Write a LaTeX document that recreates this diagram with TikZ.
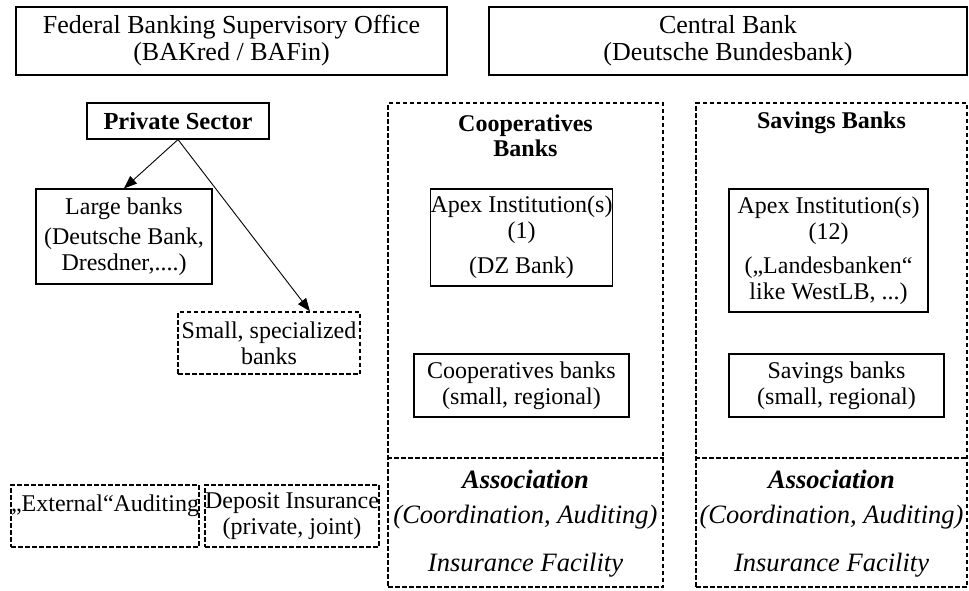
\documentclass[tikz,border=0pt]{standalone}
\usepackage{fontspec}
\setmainfont{Liberation Serif}
\usetikzlibrary{arrows.meta}
\begin{document}
\begin{tikzpicture}[x=1pt,y=-1pt,
  txt/.style={font=\fontsize{24}{26}\selectfont, align=center, inner sep=0pt},
  box/.style={draw, line width=1.1pt, inner sep=0pt, txt},
  dline/.style={line width=1.3pt, dash pattern=on 4.5pt off 2.5pt},
  dbox/.style={draw, dline, inner sep=0pt, txt},
  toptxt/.style={font=\fontsize{26}{27}\selectfont},
  btitle/.style={txt, font=\bfseries\fontsize{24}{25}\selectfont},
  assoc/.style={txt, font=\bfseries\itshape\fontsize{26.5}{27}\selectfont},
  itxt/.style={txt, font=\itshape\fontsize{26.5}{27}\selectfont},
  arr/.style={line width=0.9pt, -{Triangle[length=13pt,width=10pt]}},
]
\useasboundingbox (0,0) rectangle (969,590);
\fill[white] (0,0) rectangle (969,590);

% top boxes
\node[box, toptxt, minimum width=431pt, minimum height=68pt] (fed) at (231.5,41)
  {Federal Banking Supervisory Office\\(BAKred / BAFin)};
\node[box, toptxt, minimum width=478pt, minimum height=68pt] (cb) at (728,41)
  {Central Bank\\(Deutsche Bundesbank)};

% private sector
\node[box, font=\bfseries\fontsize{24.5}{26}\selectfont, minimum width=182pt, minimum height=36pt] (ps) at (178,121) {Private Sector};
\node[box, minimum width=176pt, minimum height=95pt] (lb) at (124,236.5)
  {Large banks\\[4pt](Deutsche Bank,\\Dresdner,....)};
\node[dbox, minimum width=182pt, minimum height=62pt] (sb) at (269,343)
  {Small, specialized\\banks};
\draw[arr] (ps.south) -- (lb.north);
\draw[arr] (ps.south) -- ([xshift=41pt]sb.north);

% bottom left
\node[dbox, minimum width=186pt, minimum height=62pt] (ea) at (105,516)
  {„External“Auditing\\\mbox{}};
\node[dbox, minimum width=172pt, minimum height=62pt] (di) at (292,516)
  {Deposit Insurance\\(private, joint)};

% cooperatives
\node[dbox, minimum width=275pt, minimum height=484pt] (coop) at (525.5,345) {};
\coordinate (cdiv) at (0,458);
\draw[dline] (coop.west |- cdiv) -- (coop.east |- cdiv);
\node[btitle] (ctitle) at (525.5,135.5) {Cooperatives\\Banks};
\node[box, minimum width=181pt, minimum height=97pt] (capex) at (521.5,237.5)
  {Apex Institution(s)\\(1)\\[9pt](DZ Bank)};
\node[box, minimum width=215pt, minimum height=63pt] (cbanks) at (521.5,385.5)
  {Cooperatives banks\\(small, regional)};
\node[assoc] (cass) at (525.5,479) {Association};
\node[itxt] (ccoord) at (525.5,517) {(Coordination, Auditing)};
\node[itxt] (cins) at (525.5,565) {Insurance Facility};

% savings
\node[dbox, minimum width=271pt, minimum height=484pt] (sav) at (831.5,345) {};
\draw[dline] (sav.west |- cdiv) -- (sav.east |- cdiv);
\node[btitle] (stitle) at (831.5,123) {Savings Banks};
\node[box, minimum width=199pt, minimum height=123pt] (sapex) at (828.5,250.5)
  {Apex Institution(s)\\(12)\\[8pt](„Landesbanken“\\like WestLB, ...)};
\node[box, minimum width=215pt, minimum height=63pt] (sbanks) at (836.5,385.5)
  {Savings banks\\(small, regional)};
\node[assoc] (sass) at (831.5,479) {Association};
\node[itxt] (scoord) at (831.5,517) {(Coordination, Auditing)};
\node[itxt] (sins) at (831.5,565) {Insurance Facility};
\end{tikzpicture}
\end{document}
